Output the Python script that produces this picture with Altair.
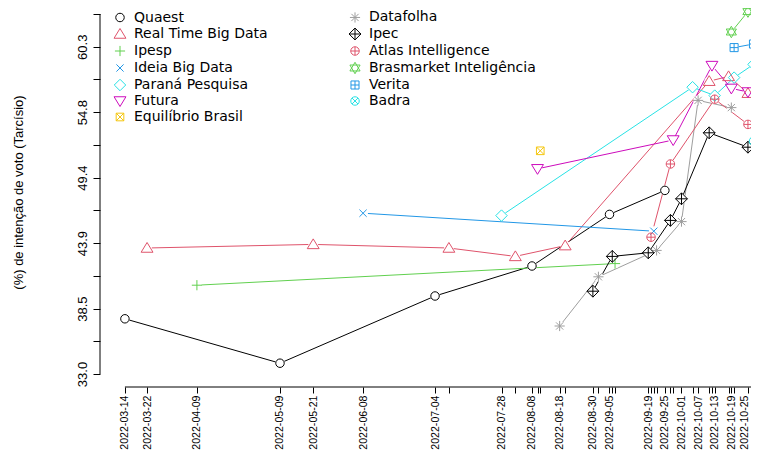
import json
import altair as alt
import pandas as pd

# ---------------- data ----------------
series_names = ["Quaest", "Real Time Big Data", "Ipesp", "Ideia Big Data",
                "Paraná Pesquisa", "Futura", "Equilíbrio Brasil", "Datafolha",
                "Ipec", "Atlas Intelligence", "Brasmarket Inteligência",
                "Verita", "Badra"]
series_colors = ["#000000", "#DF536B", "#61D04F", "#2297E6", "#28E2E5",
                 "#CD0BBC", "#F5C710", "#9E9E9E", "#000000", "#DF536B",
                 "#61D04F", "#2297E6", "#28E2E5"]

quaest_dates = ["2022-03-14", "2022-05-09", "2022-07-04", "2022-08-08", "2022-09-05", "2022-09-25"]
quaest_vals = [37.6, 33.9, 39.5, 42.0, 46.3, 48.3]

rtbd_dates = ["2022-03-22", "2022-05-21", "2022-07-09", "2022-08-02", "2022-08-20",
              "2022-10-11", "2022-10-18", "2022-10-25"]
rtbd_vals = [43.5, 43.8, 43.5, 42.8, 43.7, 57.4, 57.8, 56.4]

ipesp_dates = ["2022-04-09", "2022-09-07"]
ipesp_vals = [40.4, 42.2]

ideia_dates = ["2022-06-08", "2022-09-21"]
ideia_vals = [46.4, 44.9]

parana_dates = ["2022-07-28", "2022-10-05", "2022-10-13", "2022-10-20", "2022-10-27"]
parana_vals = [46.2, 56.9, 56.2, 57.7, 58.8]

futura_dates = ["2022-08-10", "2022-09-28", "2022-10-12", "2022-10-19", "2022-10-25"]
futura_vals = [50.1, 52.5, 58.7, 56.8, 56.5]

equilibrio_dates = ["2022-08-11"]
equilibrio_vals = [51.6]

datafolha_dates = ["2022-08-18", "2022-09-01", "2022-09-22", "2022-10-01", "2022-10-07", "2022-10-19"]
datafolha_vals = [37.0, 41.1, 43.3, 45.7, 55.8, 55.2]

ipec_dates = ["2022-08-30", "2022-09-06", "2022-09-19", "2022-09-27", "2022-10-01",
              "2022-10-11", "2022-10-25"]
ipec_vals = [39.9, 42.8, 43.1, 45.8, 47.6, 53.1, 51.9]

atlas_dates = ["2022-09-20", "2022-09-27", "2022-10-13", "2022-10-25", "2022-10-28"]
atlas_vals = [44.4, 50.5, 55.9, 53.8, 52.8]

brasmarket_dates = ["2022-10-19", "2022-10-25"]
brasmarket_vals = [61.5, 63.2]

verita_dates = ["2022-10-20", "2022-10-27"]
verita_vals = [60.2, 60.5]

badra_dates = ["2022-10-27"]
badra_vals = [52.4]

labeled_dates = ["2022-03-14", "2022-03-22", "2022-04-09", "2022-05-09", "2022-05-21",
                 "2022-06-08", "2022-07-04", "2022-07-28", "2022-08-08", "2022-08-18",
                 "2022-08-30", "2022-09-05", "2022-09-19", "2022-09-25", "2022-10-01",
                 "2022-10-07", "2022-10-13", "2022-10-19", "2022-10-25"]

y_tick_values = [33 + k * 30 / 11 for k in range(12)]

# ---------------- symbols (R pch 1..13) ----------------
C = "M -1 0 A 1 1 0 1 1 1 0 A 1 1 0 1 1 -1 0 Z"
series_shapes = [
    C,                                                     # 1 circle
    "M 0 -1.3 L 1.4 1.0 L -1.4 1.0 Z",                    # 2 triangle up
    "M -1.2 0 L 1.2 0 M 0 -1.2 L 0 1.2",                  # 3 plus
    "M -0.85 -0.85 L 0.85 0.85 M -0.85 0.85 L 0.85 -0.85",  # 4 x
    "M 0 -1.35 L 1.35 0 L 0 1.35 L -1.35 0 Z",            # 5 diamond
    "M 0 1.3 L 1.4 -1.0 L -1.4 -1.0 Z",                   # 6 triangle down
    "M -0.9 -0.9 L 0.9 -0.9 L 0.9 0.9 L -0.9 0.9 Z M -0.9 -0.9 L 0.9 0.9 M -0.9 0.9 L 0.9 -0.9",  # 7
    "M -1.2 0 L 1.2 0 M 0 -1.2 L 0 1.2 M -0.85 -0.85 L 0.85 0.85 M -0.85 0.85 L 0.85 -0.85",      # 8
    "M 0 -1.4 L 1.4 0 L 0 1.4 L -1.4 0 Z M -1.4 0 L 1.4 0 M 0 -1.4 L 0 1.4",                      # 9
    C + " M -1 0 L 1 0 M 0 -1 L 0 1",                     # 10
    "M 0 -1.35 L 1.2 0.7 L -1.2 0.7 Z M 0 1.35 L 1.2 -0.7 L -1.2 -0.7 Z",                         # 11
    "M -0.95 -0.95 L 0.95 -0.95 L 0.95 0.95 L -0.95 0.95 Z M -0.95 0 L 0.95 0 M 0 -0.95 L 0 0.95",  # 12
    C + " M -0.71 -0.71 L 0.71 0.71 M -0.71 0.71 L 0.71 -0.71",                                  # 13
]

all_series = [
    (quaest_dates, quaest_vals), (rtbd_dates, rtbd_vals), (ipesp_dates, ipesp_vals),
    (ideia_dates, ideia_vals), (parana_dates, parana_vals), (futura_dates, futura_vals),
    (equilibrio_dates, equilibrio_vals), (datafolha_dates, datafolha_vals),
    (ipec_dates, ipec_vals), (atlas_dates, atlas_vals),
    (brasmarket_dates, brasmarket_vals), (verita_dates, verita_vals),
    (badra_dates, badra_vals),
]

rows = []
for name, col, (ds, vs) in zip(series_names, series_colors, all_series):
    for d, v in zip(ds, vs):
        rows.append({"series": name, "date": d, "value": v, "col": col})
df = pd.DataFrame(rows)


def ms(d):
    return int(pd.Timestamp(d, tz="UTC").value // 10**6)


tick_ms = [ms(d) for d in sorted(set(df["date"]))]

FONT = "Liberation Sans"

# layout: plot 651 x 379 px, page must fit 759 x 463 with 8px margins
PLOT_W, PLOT_H = 651, 379
PX_PER_DAY = 2.769
DAY_MS = 86400000
x_start = ms("2022-03-05")
x_end = x_start + int(PLOT_W / PX_PER_DAY * DAY_MS)

x_scale = alt.Scale(type="utc", domain=[x_start, x_end], nice=False)
y_scale = alt.Scale(domain=[31.917, 63.5], zero=False, nice=False)

lab = json.dumps(labeled_dates)
last_label = labeled_dates[-1]
x_axis = alt.Axis(
    values=tick_ms, title=None, domain=False, grid=False,
    labelExpr=f"indexof({lab}, utcFormat(datum.value, '%Y-%m-%d')) >= 0 ? utcFormat(datum.value, '%Y-%m-%d') : ''",
    labelAngle=270, labelAlign="right", labelBaseline="middle", labelPadding=2,
    labelOffset={"condition": {"test": f"utcFormat(datum.value, '%Y-%m-%d') == '{last_label}'", "value": -3}, "value": 0},
    tickSize=6, labelOverlap=False, labelFlush=False, labelBound=False,
    labelFontSize=10.6,
)
y_axis = alt.Axis(
    values=y_tick_values, title="(%) de intenção de voto (Tarcísio)",
    domain=False, grid=False,
    labelExpr="(round((datum.value - 33) * 11 / 30) % 2 == 0) ? format(datum.value, '.1f') : ''",
    labelAngle=270, labelAlign="center", labelBaseline="bottom", labelPadding=4,
    tickSize=7, labelOverlap=False, labelFlush=False, labelBound=False,
    labelFontSize=13,
    titleAngle=270, titleX=-82, titleY=184, titleAlign="center", titleBaseline="middle",
    titleFontSize=13, titleFontWeight="normal",
)

X = alt.X("date:T", scale=x_scale, axis=x_axis)
Y = alt.Y("value:Q", scale=y_scale, axis=y_axis)

legend = alt.Legend(
    title=None, orient="none", legendX=13, legendY=2, columns=2,
    columnPadding=79, rowPadding=1, labelFont="DejaVu Sans", labelFontSize=14,
    labelOffset=7, labelLimit=0, symbolSize=72, symbolStrokeWidth=1, padding=0,
    labelColor="black",
)

base = alt.Chart(df)

lines = base.mark_line(strokeWidth=1).encode(
    x=X, y=Y, color=alt.Color("col:N", scale=None), detail="series:N"
)

halos = base.mark_point(filled=True, shape="circle", size=95, color="white",
                        opacity=1, strokeWidth=0).encode(x=X, y=Y)

points = base.mark_point(filled=False, opacity=1, strokeWidth=1, size=72).encode(
    x=X, y=Y,
    color=alt.Color("series:N", scale=alt.Scale(domain=series_names, range=series_colors), legend=legend),
    shape=alt.Shape("series:N", scale=alt.Scale(domain=series_names, range=series_shapes), legend=legend),
)

y_line = alt.Chart(pd.DataFrame({"lo": [33.0], "hi": [63.0]})).mark_rule(
    color="black", strokeWidth=1
).encode(
    y=alt.Y("lo:Q", scale=y_scale, axis=y_axis), y2="hi:Q", x=alt.value(0)
)

x_line = alt.Chart(pd.DataFrame({"d0": [sorted(df["date"])[0]], "d1": [sorted(df["date"])[-1]]})).mark_rule(
    color="black", strokeWidth=1
).encode(
    x=alt.X("d0:T", scale=x_scale, axis=x_axis), x2="d1:T", y=alt.value(PLOT_H)
)

chart = alt.layer(lines, halos, points, y_line, x_line).properties(
    width=PLOT_W, height=PLOT_H,
    autosize=alt.AutoSizeParams(type="none"),
    padding={"left": 92, "top": 0, "right": 0, "bottom": 63},
).configure_view(strokeWidth=0).configure_axis(
    labelFont=FONT, titleFont=FONT, labelColor="black", titleColor="black",
    tickColor="black", tickWidth=1,
)

chart.save("out.html", embed_options={"renderer": "svg", "actions": False})
